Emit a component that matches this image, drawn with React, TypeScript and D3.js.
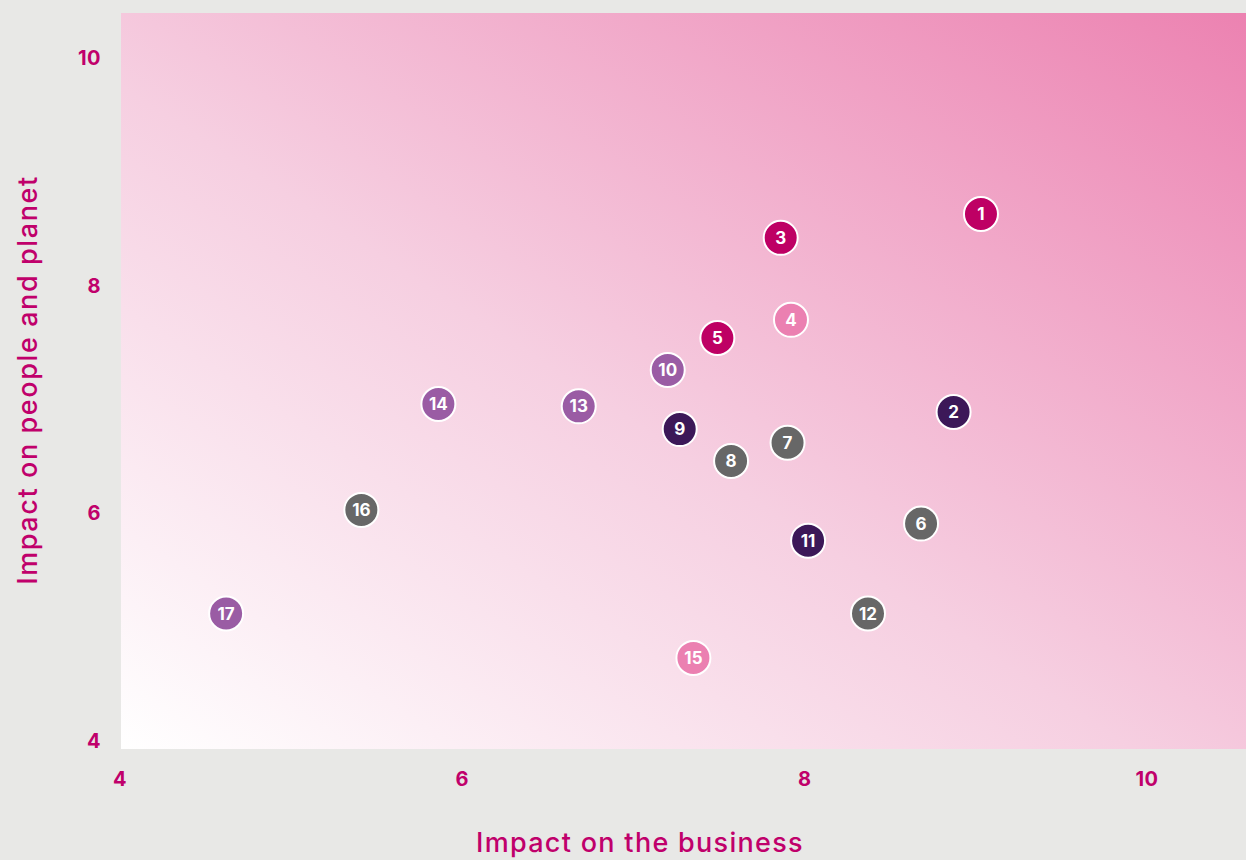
import React from "react";
import * as d3 from "d3";

const ids = ["1","2","3","4","5","6","7","8","9","10","11","12","13","14","15","16","17"];
const businessImpact = [9.03, 8.87, 7.86, 7.92, 7.49, 8.68, 7.90, 7.57, 7.27, 7.20, 8.02, 8.37, 6.68, 5.86, 7.35, 5.41, 4.62];
const peopleImpact = [8.63, 6.89, 8.42, 7.70, 7.54, 5.91, 6.62, 6.46, 6.74, 7.26, 5.76, 5.12, 6.94, 6.96, 4.73, 6.03, 5.12];
const groups = ["magenta","dark","magenta","pink","magenta","grey","grey","grey","dark","purple","dark","grey","purple","purple","pink","grey","purple"];
const xTicks = [4, 6, 8, 10];
const yTicks = [4, 6, 8, 10];
const xTitle = "Impact on the business";
const yTitle = "Impact on people and planet";

const colors: Record<string, string> = {
  magenta: "#be0064",
  dark: "#3c1858",
  grey: "#676767",
  purple: "#9a5ca4",
  pink: "#eb80b1",
};

const W = 1246, H = 860;
const accent = "#c0006b";
const font = "Inter, 'Open Sans', sans-serif";

export default function App() {
  const x = d3.scaleLinear().domain([4, 10]).range([120, 1147]);
  const y = d3.scaleLinear().domain([4, 10]).range([741, 58]);
  const plotLeft = 121, plotTop = 13, plotRight = W, plotBottom = 749;

  return (
    <svg width={W} height={H} style={{ position: "absolute", left: 0, top: 0, display: "block" }}>
      <defs>
        <linearGradient id="bg" x1="0" y1="1" x2="1" y2="0">
          <stop offset="0%" stopColor="#ffffff" />
          <stop offset="45%" stopColor="#f6cfe1" />
          <stop offset="100%" stopColor="#ec82b1" />
        </linearGradient>
      </defs>
      <rect x={0} y={0} width={W} height={H} fill="#e8e8e6" />
      <rect x={plotLeft} y={plotTop} width={plotRight - plotLeft} height={plotBottom - plotTop} fill="url(#bg)" />
      {yTicks.map((t) => (
        <text key={"y" + t} x={101} y={y(t)} dy="0.35em" textAnchor="end" fill={accent}
          fontFamily={font} fontWeight={700} fontSize={20} letterSpacing={0.5}>{t}</text>
      ))}
      {xTicks.map((t) => (
        <text key={"x" + t} x={x(t)} y={779} dy="0.35em" textAnchor="middle" fill={accent}
          fontFamily={font} fontWeight={700} fontSize={20} letterSpacing={0.5}>{t}</text>
      ))}
      <text x={640} y={843} dy="0.35em" textAnchor="middle" fill={accent} fontFamily={font}
        fontWeight={500} fontSize={27} letterSpacing={1.3}>{xTitle}</text>
      <text transform={`translate(28,380) rotate(-90)`} dy="0.35em" textAnchor="middle" fill={accent}
        fontFamily={font} fontWeight={500} fontSize={27} letterSpacing={1.6}>{yTitle}</text>
      {ids.map((id, i) => (
        <g key={id} transform={`translate(${x(businessImpact[i])},${y(peopleImpact[i])})`}>
          <circle r={17} fill={colors[groups[i]]} stroke="#ffffff" strokeWidth={2} />
          <text dy="0.36em" textAnchor="middle" fill="#ffffff" fontFamily={font} fontWeight={700}
            fontSize={17}>{id}</text>
        </g>
      ))}
    </svg>
  );
}
